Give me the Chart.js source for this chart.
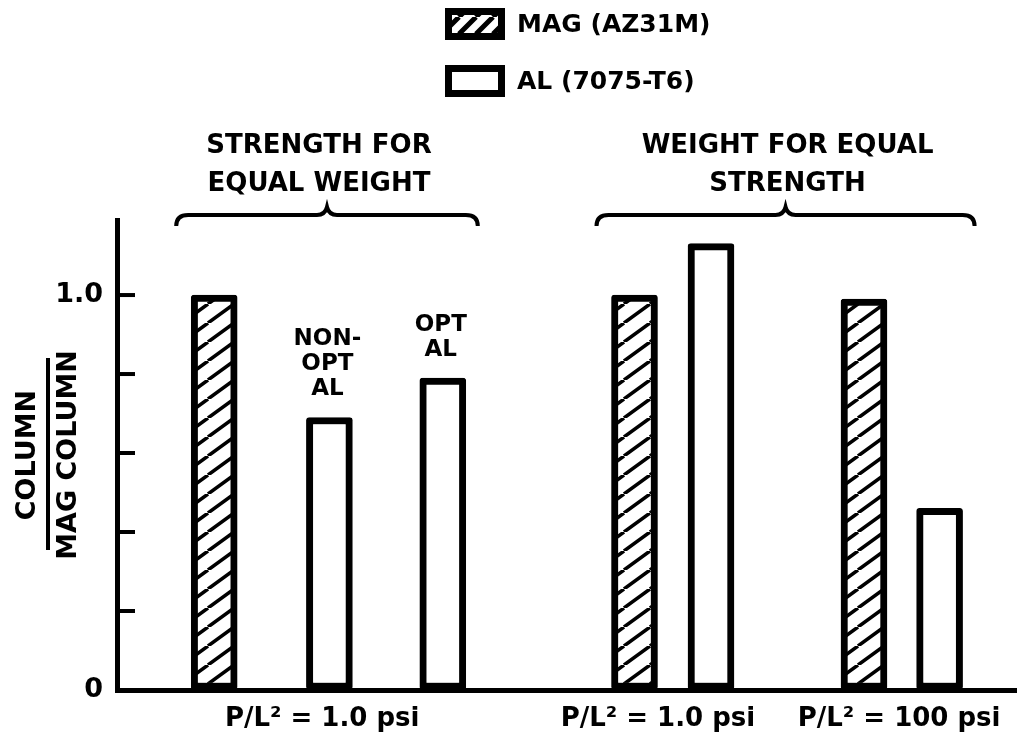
<!DOCTYPE html>
<html>
<head>
<meta charset="utf-8" />
<script src="https://cdn.jsdelivr.net/npm/chart.js@4/dist/chart.umd.min.js"></script>
<style>
  body { margin: 0; background: #fff; }
  canvas { display: block; }
</style>
</head>
<body>
<canvas id="myChart" width="1017" height="743"></canvas>

<script>
// values (ratio to the magnesium column)
const seriesNames = ['MAG (AZ31M)', 'AL (7075-T6)'];
const magValues = [1.0, 1.0, 0.99];
const alValues = [0.69, 0.79, 1.13, 0.46];
// where each bar sits on the 0..100 x scale
const magSlots = [10.8, 57.5, 83.0];
const alSlots = [23.6, 36.2, 66.0, 91.4];

const xLabels = ['P/L\u00B2 = 1.0 psi', 'P/L\u00B2 = 1.0 psi', 'P/L\u00B2 = 100 psi'];
const xLabelSlots = [22.8, 60.1, 86.9];

const yTicks = [0, 0.2, 0.4, 0.6, 0.8, 1.0];
const yTickLabels = ['0', '', '', '', '', '1.0'];

const alNotes = [['NON-', 'OPT', 'AL'], ['OPT', 'AL'], [], []];
const groupTitles = [['STRENGTH FOR', 'EQUAL WEIGHT'], ['WEIGHT FOR EQUAL', 'STRENGTH']];
// [dataset, index] of the bars under each brace
const groupBars = [[[0, 0], [1, 0], [1, 1]], [[0, 1], [1, 2], [0, 2], [1, 3]]];

const FONT = '"DejaVu Sans", sans-serif';

function hatch(w, h, lw) {
	const c = document.createElement('canvas');
	c.width = w; c.height = h;
	const g = c.getContext('2d');
	g.fillStyle = '#fff';
	g.fillRect(0, 0, w, h);
	g.strokeStyle = '#000';
	g.lineWidth = lw;
	g.beginPath();
	[-w, 0, w].forEach(dx => {
		g.moveTo(dx, h);
		g.lineTo(dx + w, 0);
	});
	g.stroke();
	return g.createPattern(c, 'repeat');
}

const barHatch = hatch(26, 19, 3.5);
const keyHatch = hatch(17, 17, 5);

function brace(ctx, l, r, y) {
	const m = (l + r) / 2;
	ctx.beginPath();
	ctx.moveTo(l, y + 11);
	ctx.quadraticCurveTo(l, y, l + 12, y);
	ctx.lineTo(m - 10, y);
	ctx.quadraticCurveTo(m - 2, y, m, y - 8);
	ctx.quadraticCurveTo(m + 2, y, m + 10, y);
	ctx.lineTo(r - 12, y);
	ctx.quadraticCurveTo(r, y, r, y + 11);
	ctx.stroke();
}

const extras = {
	id: 'extras',
	afterDatasetsDraw(chart) {
		const {ctx, scales: {x, y}} = chart;
		ctx.save();
		ctx.strokeStyle = '#000';
		ctx.fillStyle = '#000';

		// inward tick marks on the value axis
		ctx.lineWidth = 4;
		y.ticks.forEach(t => {
			if (t.value === 0) return;
			const py = y.getPixelForValue(t.value);
			ctx.beginPath();
			ctx.moveTo(x.left, py);
			ctx.lineTo(x.left + 18, py);
			ctx.stroke();
		});

		// fraction bar of the axis title
		ctx.lineWidth = 4;
		const mid = (y.top + y.bottom) / 2;
		ctx.beginPath();
		ctx.moveTo(48, mid - 97);
		ctx.lineTo(48, mid + 95);
		ctx.stroke();

		// notes over the aluminium bars
		ctx.font = 'bold 23px ' + FONT;
		ctx.textAlign = 'center';
		ctx.textBaseline = 'alphabetic';
		chart.getDatasetMeta(1).data.forEach((bar, i) => {
			const lines = alNotes[i];
			lines.forEach((s, k) => {
				ctx.fillText(s, bar.x - 2, bar.y - 22 - (lines.length - 1 - k) * 25);
			});
		});

		// braces and group headings
		groupBars.forEach((g, gi) => {
			const bars = g.map(([d, i]) => chart.getDatasetMeta(d).data[i]);
			const l = Math.min(...bars.map(b => b.x - b.width / 2)) - 15;
			const r = Math.max(...bars.map(b => b.x + b.width / 2)) + 12;
			ctx.lineWidth = 4;
			brace(ctx, l, r, 215);
			ctx.font = 'bold 26px ' + FONT;
			groupTitles[gi].forEach((s, k) => {
				ctx.fillText(s, (l + r) / 2 + (gi === 0 ? -8 : 2), 153 + k * 38);
			});
		});

		// key
		ctx.font = 'bold 25px ' + FONT;
		ctx.textAlign = 'left';
		ctx.textBaseline = 'middle';
		const fills = [keyHatch, '#fff'];
		seriesNames.forEach((s, i) => {
			const top = 8 + i * 57;
			ctx.fillStyle = fills[i];
			ctx.fillRect(445, top, 60, 32);
			ctx.lineWidth = 7;
			ctx.strokeRect(448.5, top + 3.5, 53, 25);
			ctx.fillStyle = '#000';
			ctx.fillText(s, 517, top + 17);
		});
		ctx.restore();
	}
};

new Chart(document.getElementById('myChart'), {
	type: 'bar',
	data: {
		datasets: [{
			label: seriesNames[0],
			data: magValues.map((v, i) => ({x: magSlots[i], y: v})),
			backgroundColor: barHatch
		}, {
			label: seriesNames[1],
			data: alValues.map((v, i) => ({x: alSlots[i], y: v})),
			backgroundColor: '#fff'
		}]
	},
	options: {
		responsive: false,
		animation: false,
		layout: {padding: {top: 220, left: 0, right: 0, bottom: 0}},
		datasets: {
			bar: {
				grouped: false,
				barThickness: 46,
				borderWidth: 7,
				borderColor: '#000',
				borderSkipped: false,
				borderRadius: 3
			}
		},
		plugins: {
			legend: {display: false},
			tooltip: {enabled: false}
		},
		scales: {
			x: {
				type: 'linear',
				min: 0,
				max: 100,
				offset: false,
				afterFit: s => { s.height = 53; },
				afterBuildTicks: s => { s.ticks = xLabelSlots.map(v => ({value: v})); },
				grid: {offset: false, drawOnChartArea: false, drawTicks: false},
				border: {color: '#000', width: 5},
				ticks: {
					autoSkip: false,
					maxRotation: 0,
					padding: 14,
					color: '#000',
					font: {family: FONT, size: 26, weight: 'bold'},
					callback: (v, i) => xLabels[i]
				}
			},
			y: {
				min: 0,
				max: 1.19,
				afterFit: s => { s.width = 117; },
				afterBuildTicks: s => { s.ticks = yTicks.map(v => ({value: v})); },
				grid: {drawOnChartArea: false, drawTicks: false},
				border: {color: '#000', width: 5},
				ticks: {
					padding: 14,
					color: '#000',
					font: {family: FONT, size: 27, weight: 'bold'},
					callback: (v, i) => yTickLabels[i]
				},
				title: {
					display: true,
					text: ['COLUMN', 'MAG COLUMN'],
					color: '#000',
					font: {family: FONT, size: 27, weight: 'bold', lineHeight: 1.5},
					padding: {top: 8, bottom: 0}
				}
			}
		}
	},
	plugins: [extras]
});
</script>
</body>
</html>
